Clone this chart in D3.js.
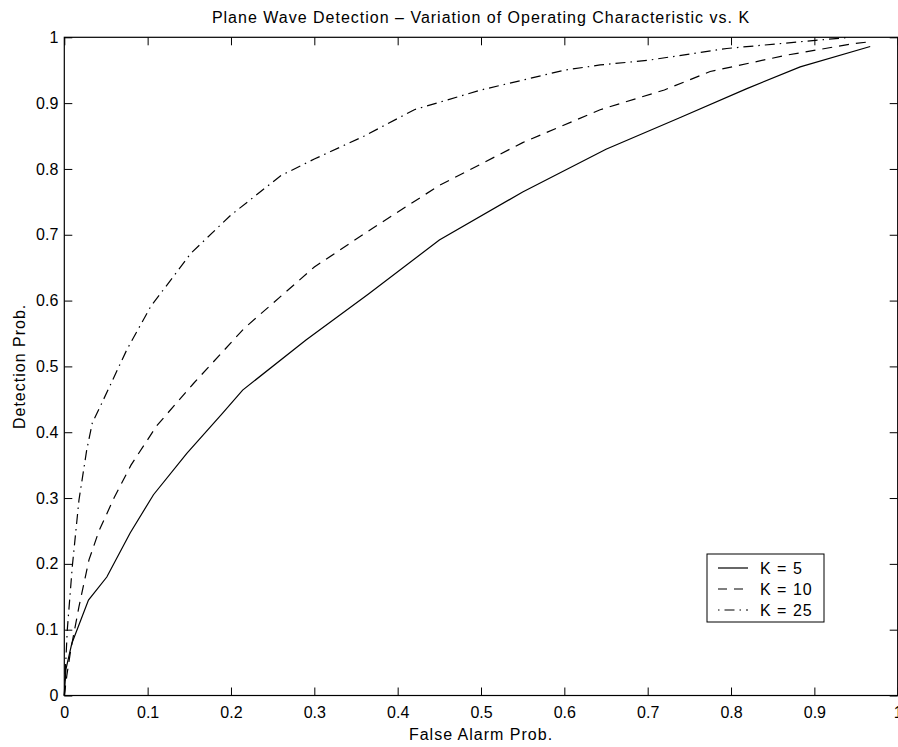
<!DOCTYPE html>
<html>
<head>
<meta charset="utf-8">
<script src="https://cdn.jsdelivr.net/npm/d3@7"></script>
<style>
  body { margin: 0; background: #fff; }
  svg { display: block; font-family: "Liberation Sans", Arial, Helvetica, sans-serif; }
  .axis text { font-size: 16px; fill: #000; }
  .axis path { display: none; }
  .axis line { stroke: #000; stroke-width: 1; }
  .label { font-size: 16px; letter-spacing: 1px; }
</style>
</head>
<body>
<div id="chart"></div>
<script>
// ---------------------------------------
// data
const seriesNames = ["K = 5", "K = 10", "K = 25"];

const k5X = [0, 0.002, 0.009, 0.029, 0.051, 0.079, 0.107, 0.147, 0.190, 0.214, 0.29, 0.365, 0.45, 0.55, 0.65, 0.737, 0.819, 0.883, 0.967];
const k5Y = [0, 0.04, 0.079, 0.145, 0.18, 0.247, 0.305, 0.368, 0.429, 0.464, 0.54, 0.61, 0.692, 0.765, 0.83, 0.877, 0.922, 0.955, 0.986];

const k10X = [0, 0.003, 0.0077, 0.0176, 0.0296, 0.0416, 0.0596, 0.08, 0.111, 0.155, 0.216, 0.30, 0.37, 0.45, 0.55, 0.643, 0.72, 0.775, 0.867, 0.945, 0.965];
const k10Y = [0, 0.03, 0.069, 0.135, 0.206, 0.25, 0.30, 0.35, 0.41, 0.474, 0.558, 0.651, 0.71, 0.775, 0.84, 0.89, 0.92, 0.948, 0.973, 0.99, 0.993];

const k25X = [0, 0.001, 0.0036, 0.0096, 0.0176, 0.0269, 0.0336, 0.0468, 0.0749, 0.1037, 0.152, 0.2, 0.26, 0.3, 0.36, 0.42, 0.5, 0.6, 0.643, 0.7, 0.795, 0.898, 0.943];
const k25Y = [0, 0.03, 0.1, 0.196, 0.297, 0.373, 0.414, 0.449, 0.525, 0.591, 0.672, 0.73, 0.79, 0.815, 0.85, 0.89, 0.92, 0.95, 0.958, 0.965, 0.983, 0.995, 1.0];

const xTicks = [0, 0.1, 0.2, 0.3, 0.4, 0.5, 0.6, 0.7, 0.8, 0.9, 1];
const xTickLabels = ["0", "0.1", "0.2", "0.3", "0.4", "0.5", "0.6", "0.7", "0.8", "0.9", "1"];
const yTicks = [0, 0.1, 0.2, 0.3, 0.4, 0.5, 0.6, 0.7, 0.8, 0.9, 1];
const yTickLabels = ["0", "0.1", "0.2", "0.3", "0.4", "0.5", "0.6", "0.7", "0.8", "0.9", "1"];

// ---------------------------------------
// svg params
const W = 898, H = 747;
const margin = {top: 37.3, right: 0.3, bottom: 51.5, left: 64.3};
const width = W - margin.left - margin.right;
const height = H - margin.top - margin.bottom;

const svg = d3.select("#chart")
    .append("svg")
    .attr("width", W)
    .attr("height", H);

const g = svg.append("g")
    .attr("transform", "translate(" + margin.left + "," + margin.top + ")");

const x = d3.scaleLinear().domain([0, 1]).range([0, width]);
const y = d3.scaleLinear().domain([0, 1]).range([height, 0]);

// axes, ticks pointing inward
g.append("g")
    .attr("class", "axis")
    .attr("transform", "translate(0," + height + ")")
    .call(d3.axisBottom(x).tickValues(xTicks).tickSize(-8).tickSizeOuter(0).tickPadding(11)
        .tickFormat((d, i) => xTickLabels[i]));

g.append("g")
    .attr("class", "axis")
    .call(d3.axisTop(x).tickValues(xTicks).tickSize(-8).tickSizeOuter(0).tickFormat(""));

g.append("g")
    .attr("class", "axis")
    .call(d3.axisLeft(y).tickValues(yTicks).tickSize(-8).tickSizeOuter(0).tickPadding(6)
        .tickFormat((d, i) => yTickLabels[i]));

g.append("g")
    .attr("class", "axis")
    .attr("transform", "translate(" + width + ",0)")
    .call(d3.axisRight(y).tickValues(yTicks).tickSize(-8).tickSizeOuter(0).tickFormat(""));

// frame
g.append("rect")
    .attr("width", width)
    .attr("height", height)
    .attr("fill", "none")
    .attr("stroke", "#000")
    .attr("stroke-width", 1.2);

// ---------------------------------------
// curves
const dashes = ["none", "10,7", "10,5,1.5,5"];
const series = [
  {name: seriesNames[0], xs: k5X, ys: k5Y, dash: dashes[0]},
  {name: seriesNames[1], xs: k10X, ys: k10Y, dash: dashes[1]},
  {name: seriesNames[2], xs: k25X, ys: k25Y, dash: dashes[2]}
];

const line = d3.line()
    .x(d => x(d[0]))
    .y(d => y(d[1]));

g.selectAll(".curve")
    .data(series)
    .enter()
    .append("path")
    .attr("class", "curve")
    .attr("fill", "none")
    .attr("stroke", "#000")
    .attr("stroke-width", 1.2)
    .attr("stroke-dasharray", d => d.dash)
    .attr("d", d => line(d.xs.map((v, i) => [v, d.ys[i]])));

// ---------------------------------------
// legend
const legend = svg.append("g")
    .attr("transform", "translate(707,554)");

legend.append("rect")
    .attr("width", 117)
    .attr("height", 68)
    .attr("fill", "#fff")
    .attr("stroke", "#000")
    .attr("stroke-width", 1);

const item = legend.selectAll(".item")
    .data(series)
    .enter()
    .append("g")
    .attr("class", "item")
    .attr("transform", (d, i) => "translate(0," + (14 + i * 21) + ")");

item.append("line")
    .attr("x1", 11).attr("x2", 41)
    .attr("stroke", "#000")
    .attr("stroke-width", 1.2)
    .attr("stroke-dasharray", (d, i) => i === 1 ? "9,7" : (i === 2 ? "1.5,5,10,5" : "none"));

item.append("text")
    .attr("class", "label")
    .attr("x", 53)
    .attr("dy", "0.36em")
    .text(d => d.name);

// ---------------------------------------
// titles
svg.append("text")
    .attr("class", "label")
    .attr("x", margin.left + width / 2)
    .attr("y", 23)
    .attr("text-anchor", "middle")
    .text("Plane Wave Detection \u2013 Variation of Operating Characteristic vs. K");

svg.append("text")
    .attr("class", "label")
    .attr("x", margin.left + width / 2)
    .attr("y", 740)
    .attr("text-anchor", "middle")
    .text("False Alarm Prob.");

svg.append("text")
    .attr("class", "label")
    .attr("transform", "translate(25," + (margin.top + height / 2) + ") rotate(-90)")
    .attr("text-anchor", "middle")
    .text("Detection Prob.");
</script>
</body>
</html>
